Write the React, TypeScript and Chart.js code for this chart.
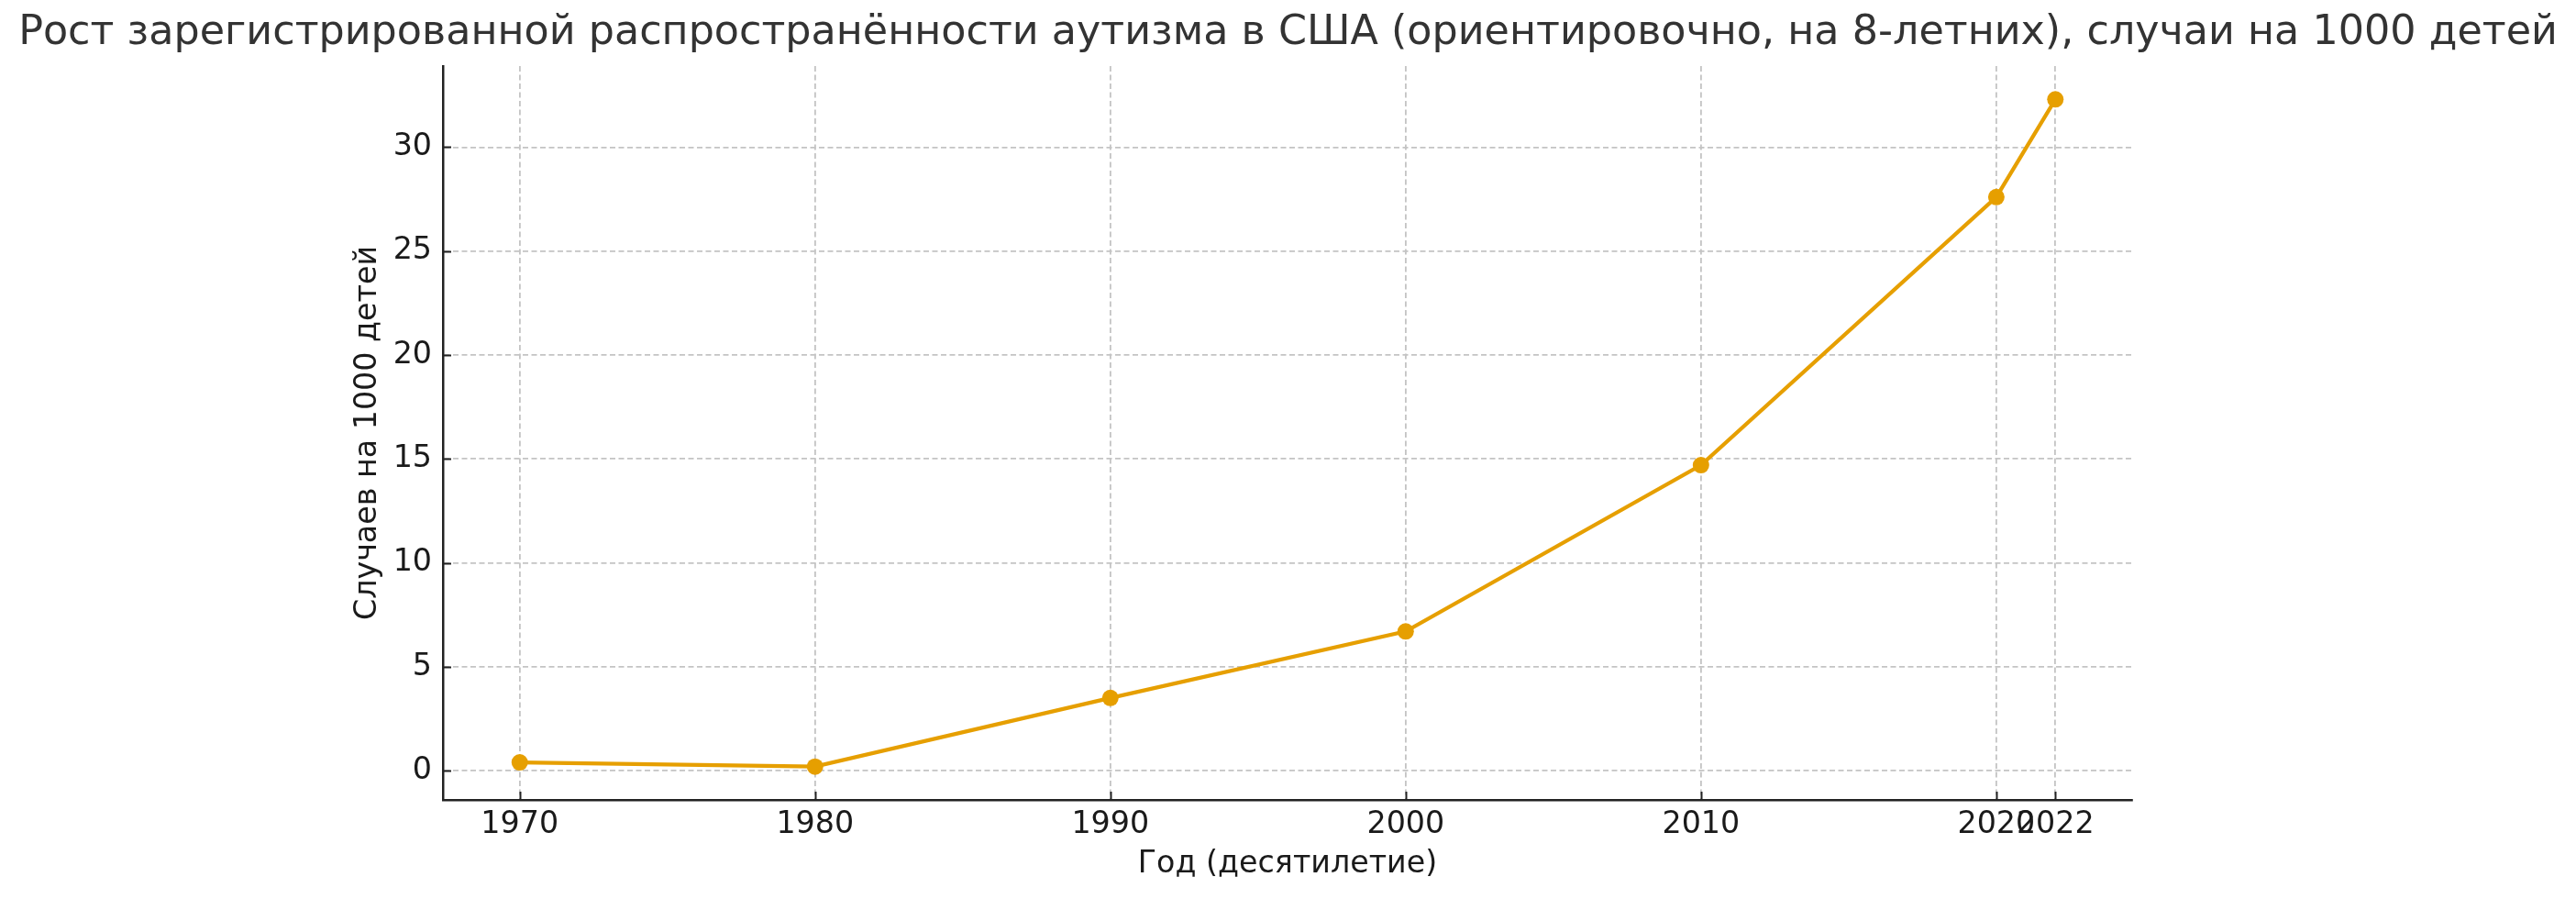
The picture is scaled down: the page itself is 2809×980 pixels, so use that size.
import React, { useEffect, useRef } from "react";
import { Chart, registerables } from "chart.js";

Chart.register(...registerables);

const TITLE = "Рост зарегистрированной распространённости аутизма в США (ориентировочно, на 8-летних), случаи на 1000 детей";
const X_LABEL = "Год (десятилетие)";
const Y_LABEL = "Случаев на 1000 детей";
const years = [1970, 1980, 1990, 2000, 2010, 2020, 2022];
const prevalence = [0.4, 0.2, 3.5, 6.7, 14.7, 27.6, 32.3];
const xTicks = [1970, 1980, 1990, 2000, 2010, 2020, 2022];
const yTicks = [0, 5, 10, 15, 20, 25, 30];

const FONT = "'DejaVu Sans', sans-serif";
const W = 2809;
const H = 980;
const LBL = 33.3;
const TITLE_WIDTH = 2769;

const inwardTicks = {
  id: "inwardTicks",
  afterDraw(chart: any) {
    const { ctx, chartArea, scales } = chart;
    ctx.save();
    ctx.strokeStyle = "#222222";
    ctx.lineWidth = 2;
    const len = 9;
    scales.x.ticks.forEach((t: any) => {
      const px = Math.round(scales.x.getPixelForValue(t.value)) + 0.5;
      ctx.beginPath();
      ctx.moveTo(px, chartArea.bottom);
      ctx.lineTo(px, chartArea.bottom - len);
      ctx.stroke();
    });
    scales.y.ticks.forEach((t: any) => {
      const py = Math.round(scales.y.getPixelForValue(t.value)) + 0.5;
      ctx.beginPath();
      ctx.moveTo(chartArea.left, py);
      ctx.lineTo(chartArea.left + len, py);
      ctx.stroke();
    });
    ctx.restore();
  },
};

function titleSize(): number {
  const c = document.createElement("canvas").getContext("2d")!;
  c.font = "100px " + FONT;
  const w = c.measureText(TITLE).width;
  return Math.min(60, (100 * TITLE_WIDTH) / w);
}

export default function App() {
  const ref = useRef<HTMLCanvasElement | null>(null);
  useEffect(() => {
    document.body.style.margin = "0";
    const canvas = ref.current!;
    const ts = titleSize();
    const lh = ts * 1.2;
    const padTop = Math.max(0, 36 - lh / 2);
    const padBottom = Math.max(0, 72 - padTop - lh);
    const gridOpts = { color: "#c4c4c4", lineWidth: 1.8, drawTicks: false };
    const borderOpts = { display: true, color: "#222222", width: 2.5, dash: [6, 3.5] };
    const chart = new Chart(canvas, {
      type: "line",
      data: {
        datasets: [
          {
            data: years.map((y, i) => ({ x: y, y: prevalence[i] })),
            borderColor: "#E69F00",
            backgroundColor: "#E69F00",
            borderWidth: 4.2,
            pointRadius: 9,
            pointBorderWidth: 0,
            pointBackgroundColor: "#E69F00",
            tension: 0,
          },
        ],
      },
      plugins: [inwardTicks],
      options: {
        animation: false,
        responsive: false,
        devicePixelRatio: 1,
        layout: { padding: 0 },
        plugins: {
          legend: { display: false },
          tooltip: { enabled: false },
          title: {
            display: true,
            text: TITLE,
            color: "#333333",
            font: { family: FONT, size: ts, weight: "normal", lineHeight: 1.2 },
            padding: { top: padTop, bottom: padBottom },
          },
        },
        scales: {
          x: {
            type: "linear",
            min: 1967.4,
            max: 2024.6,
            afterBuildTicks: (s: any) => {
              s.ticks = xTicks.map((v) => ({ value: v }));
            },
            afterFit: (s: any) => {
              s.height = H - 872;
            },
            ticks: {
              color: "#1a1a1a",
              font: { family: FONT, size: LBL },
              padding: 7,
              maxRotation: 0,
              autoSkip: false,
              callback: (v: any) => String(v),
            },
            grid: gridOpts,
            border: borderOpts,
            title: {
              display: true,
              text: X_LABEL,
              color: "#1a1a1a",
              font: { family: FONT, size: LBL, lineHeight: 1.2 },
              padding: { top: 0, bottom: 18 },
            },
          },
          y: {
            type: "linear",
            min: -1.405,
            max: 33.905,
            afterBuildTicks: (s: any) => {
              s.ticks = yTicks.map((v) => ({ value: v }));
            },
            afterFit: (s: any) => {
              s.width = 483;
            },
            ticks: {
              color: "#1a1a1a",
              font: { family: FONT, size: LBL },
              padding: 12,
              callback: (v: any) => String(v),
            },
            grid: gridOpts,
            border: borderOpts,
            title: {
              display: true,
              text: Y_LABEL,
              color: "#1a1a1a",
              font: { family: FONT, size: LBL, lineHeight: 1.2 },
              padding: { top: 401 - 20, bottom: 0 },
            },
          },
          yRightSpace: {
            type: "linear",
            position: "right",
            display: true,
            min: 0,
            max: 1,
            afterBuildTicks: (s: any) => {
              s.ticks = [];
            },
            afterFit: (s: any) => {
              s.width = W - 2325;
            },
            ticks: { display: false },
            grid: { display: false, drawOnChartArea: false },
            border: { display: false },
            title: { display: false },
          },
        },
      },
    } as any);
    return () => chart.destroy();
  }, []);
  return (
    <div style={{ width: W, height: H }}>
      <canvas ref={ref} width={W} height={H} style={{ display: "block", width: W, height: H }} />
    </div>
  );
}
